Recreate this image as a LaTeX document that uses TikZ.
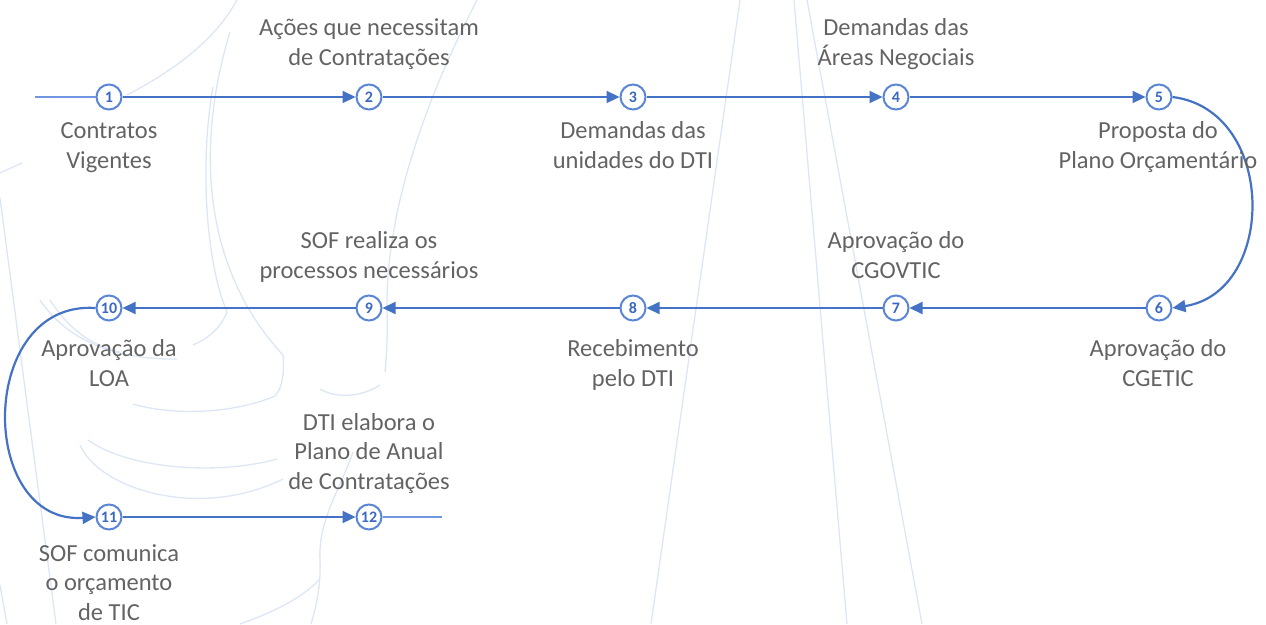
\documentclass[tikz,border=0pt]{standalone}
\usepackage{fontspec}
\setmainfont{Carlito}
\usetikzlibrary{arrows.meta}
\definecolor{lineblue}{HTML}{4472C4}
\definecolor{circblue}{HTML}{5B86D6}
\definecolor{numblue}{HTML}{3C68C2}
\definecolor{lightline}{HTML}{6F96DE}
\definecolor{wm}{HTML}{DCE6F4}
\definecolor{txt}{HTML}{636363}
\begin{document}
\begin{tikzpicture}[x=1pt,y=-1pt,
  stepnode/.style={circle,draw=circblue,line width=2pt,fill=white,minimum size=25pt,inner sep=0pt,font=\fontsize{16}{16}\selectfont\bfseries,text=numblue},
  lab/.style={align=center,font=\fontsize{24.5}{29.5}\selectfont,text=txt,anchor=base,inner sep=0pt},
  flow/.style={draw=lineblue,line width=2.2pt,-{Triangle[length=13pt,width=12pt]}},
  plain/.style={draw=lightline,line width=1.7pt},
  wmline/.style={draw=wm,line width=1.3pt}]
\useasboundingbox (0,0) rectangle (1266,624);
% watermark
\draw[wmline] (127,95) .. controls (175,70) and (215,40) .. (237,0);
\draw[wmline] (230,32) .. controls (200,130) and (195,260) .. (283,355);
\draw[wmline] (213,87) .. controls (200,160) and (205,260) .. (227,312) .. controls (220,330) and (205,340) .. (193,345);
\draw[wmline] (283,355) .. controls (285,380) and (280,390) .. (275,396) .. controls (230,415) and (170,415) .. (133,404);
\draw[wmline] (88,440) .. controls (130,470) and (220,475) .. (277,459);
\draw[wmline] (80,445) .. controls (100,490) and (200,520) .. (283,479);
\draw[wmline] (40,300) .. controls (60,330) and (100,360) .. (177,359);
\draw[wmline] (50,300) .. controls (70,330) and (90,345) .. (120,352);
\draw[wmline] (477,0) .. controls (420,110) and (385,220) .. (387,312) .. controls (388,340) and (386,360) .. (385,372);
\draw[wmline] (380,385) .. controls (360,398) and (335,398) .. (320,389);
\draw[wmline] (353,452) .. controls (340,490) and (318,520) .. (320,560) .. controls (321,590) and (315,610) .. (311,624);
\draw[wmline] (240,624) .. controls (280,610) and (305,595) .. (320,579);
\draw[wmline] (0,173) -- (22,163);
\draw[wmline] (0,198) -- (56,624);
\draw[wmline] (0,585) -- (7,624);
\draw[wmline] (740,0) -- (651,624);
\draw[wmline] (794,0) -- (847,624);
\draw[wmline] (807,0) -- (922,624);
% steps
\node[stepnode] (n1) at (109,97) {1};
\node[stepnode] (n2) at (369,97) {2};
\node[stepnode] (n3) at (633,97) {3};
\node[stepnode] (n4) at (896,97) {4};
\node[stepnode] (n5) at (1159,97) {5};
\node[stepnode] (n6) at (1159,308) {6};
\node[stepnode] (n7) at (896,308) {7};
\node[stepnode] (n8) at (633,308) {8};
\node[stepnode] (n9) at (369,308) {9};
\node[stepnode] (n10) at (109,308) {10};
\node[stepnode] (n11) at (109,517) {11};
\node[stepnode] (n12) at (369,517) {12};
\coordinate (s) at (35,97);
\coordinate (e) at (442,517);
% connectors
\draw[plain] (s) -- (n1);
\draw[flow] (n1) -- (n2);
\draw[flow] (n2) -- (n3);
\draw[flow] (n3) -- (n4);
\draw[flow] (n4) -- (n5);
\draw[flow] (n5.east) .. controls (1277,110) and (1277,292) .. (n6.east);
\draw[flow] (n6) -- (n7);
\draw[flow] (n7) -- (n8);
\draw[flow] (n8) -- (n9);
\draw[flow] (n9) -- (n10);
\draw[flow] (n10.west) .. controls (-23,300) and (-23,525) .. (n11.west);
\draw[flow] (n11) -- (n12);
\draw[plain] (n12) -- (e);
% labels (anchor = baseline of last line)
\node[lab] (l1) at (109,168) {Contratos\\Vigentes};
\node[lab] (l2) at (369,65) {Ações que necessitam\\de Contratações};
\node[lab] (l3) at (633,168) {Demandas das\\unidades do DTI};
\node[lab] (l4) at (896,65) {Demandas das\\Áreas Negociais};
\node[lab] (l5) at (1158,168) {Proposta do\\Plano Orçamentário};
\node[lab] (l6) at (1158,386) {Aprovação do\\CGETIC};
\node[lab] (l7) at (896,278) {Aprovação do\\CGOVTIC};
\node[lab] (l8) at (633,386) {Recebimento\\pelo DTI};
\node[lab] (l9) at (369,278) {SOF realiza os\\processos necessários};
\node[lab] (l10) at (109,386) {Aprovação da\\LOA};
\node[lab] (l11) at (109,620) {SOF comunica\\o orçamento\\de TIC};
\node[lab] (l12) at (369,489) {DTI elabora o\\Plano de Anual\\de Contratações};
\end{tikzpicture}
\end{document}
